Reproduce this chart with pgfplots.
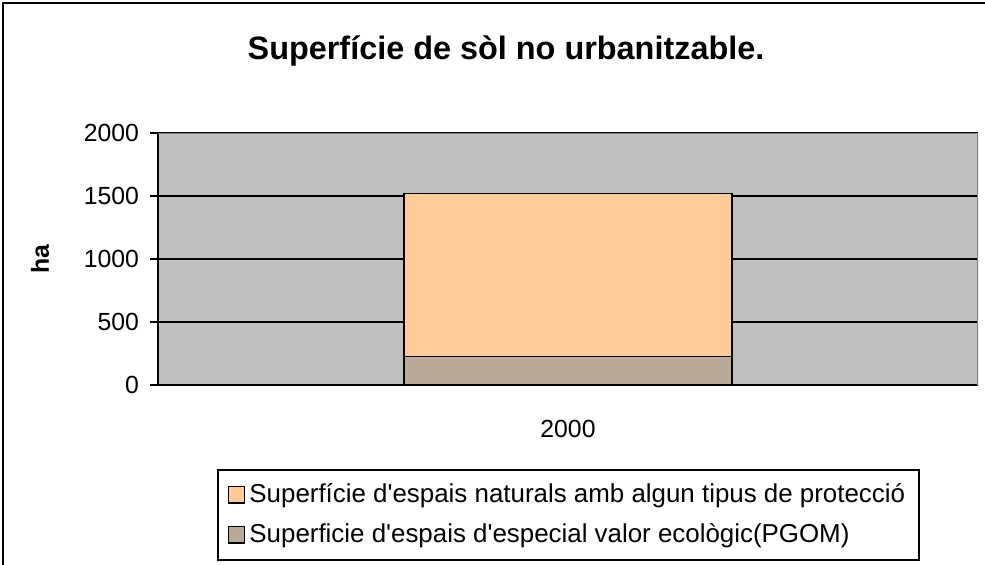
\documentclass[border=0pt]{standalone}
\usepackage{pgfplots}
\pgfplotsset{compat=1.18}
\usepackage{fontspec}
\setmainfont{Liberation Sans}[Ligatures=TeXOff]
\definecolor{plotgray}{RGB}{192,192,192}
\definecolor{peach}{RGB}{255,204,153}
\definecolor{taupe}{RGB}{185,169,153}
\begin{document}
\begin{tikzpicture}[x=1pt,y=1pt]
\useasboundingbox (0,0) rectangle (492.5,282);
\draw[line width=1pt] (1.5,-20) rectangle (520,280.5);
\node[font=\fontsize{16.2}{19}\selectfont\bfseries] at (253,256.5) {Superfície de sòl no urbanitzable.};
\begin{axis}[
  at={(79pt,89.5pt)}, anchor=south west,
  scale only axis, width=410pt, height=126pt,
  xmin=0, xmax=1, ymin=0, ymax=2000,
  ytick={0,500,1000,1500,2000},
  xtick={0.5}, xticklabels={2000},
  major x tick style={draw=none},
  extra x ticks={0,1}, extra x tick labels={},
  extra x tick style={major tick length=4pt, tick style={black, line width=0.8pt}, tick align=outside},
  tick align=outside, major tick length=4pt,
  ytick style={black, line width=0.8pt},
  ymajorgrids, grid style={black, line width=0.8pt},
  axis background/.style={fill=plotgray},
  axis x line*=bottom, axis y line*=left,
  axis line style={black, line width=0.8pt},
  ticklabel style={font=\fontsize{12.4}{14}\selectfont},
  /pgf/number format/assume math mode=true,
  /pgf/number format/1000 sep={},
  yticklabel style={xshift=-2pt},
  xticklabel style={yshift=-10pt},
  ylabel={ha}, ylabel style={font=\fontsize{12.4}{14}\selectfont\bfseries, at={(axis description cs:-0.144,0.5)}, anchor=center},
  ybar stacked, bar width=0.4,
  reverse legend,
  legend style={at={(axis description cs:0.072,-0.333)}, anchor=north west,
    draw=black, line width=0.8pt, font=\fontsize{12.95}{15}\selectfont,
    row sep=5pt, inner xsep=5pt, inner ysep=5pt,
    /tikz/column 2/.style={column sep=1.5pt}},
  legend cell align=left,
  legend image code/.code={\draw[#1, line width=0.6pt] (0pt,-4.1pt) rectangle (8.2pt,4.1pt);},
]
\addplot[fill=taupe, draw=black, line width=0.8pt] coordinates {(0.5,227)};
\addplot[fill=peach, draw=black, line width=0.8pt] coordinates {(0.5,1293)};
\draw[gray, line width=0.8pt] (rel axis cs:0,1) -- (rel axis cs:1,1) -- (rel axis cs:1,0);
\legend{Superficie d'espais d'especial valor ecològic(PGOM), Superfície d'espais naturals amb algun tipus de protecció\hspace{2pt}}
\end{axis}
\end{tikzpicture}
\end{document}
